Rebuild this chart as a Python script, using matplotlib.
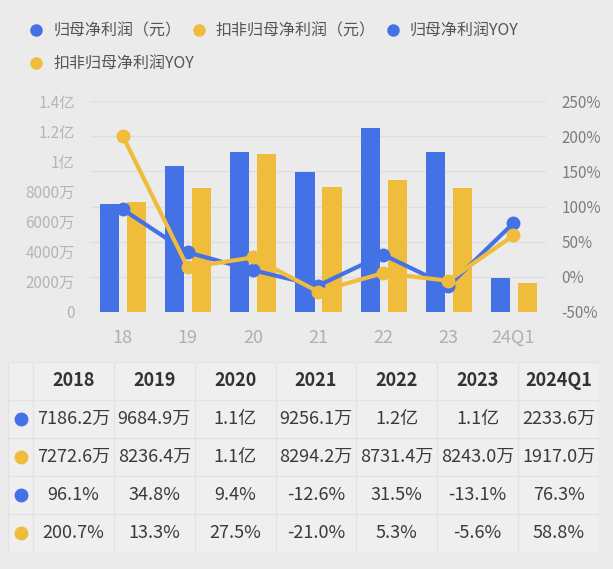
import matplotlib
matplotlib.use("Agg")
import matplotlib.pyplot as plt
from matplotlib.lines import Line2D
import numpy as np

plt.rcParams['font.family'] = ['Noto Sans CJK SC', 'DejaVu Sans']

# 数据
labels = ['18', '19', '20', '21', '22', '23', '24Q1']
years = ['2018', '2019', '2020', '2021', '2022', '2023', '2024Q1']
net_profit = [7186.2e4, 9684.9e4, 1.06e8, 9256.1e4, 1.22e8, 1.06e8, 2233.6e4]
net_profit_adj = [7272.6e4, 8236.4e4, 1.05e8, 8294.2e4, 8731.4e4, 8243.0e4, 1917.0e4]
yoy = [96.1, 34.8, 9.4, -12.6, 31.5, -13.1, 76.3]
yoy_adj = [200.7, 13.3, 27.5, -21.0, 5.3, -5.6, 58.8]

row_profit = ['7186.2万', '9684.9万', '1.1亿', '9256.1万', '1.2亿', '1.1亿', '2233.6万']
row_profit_adj = ['7272.6万', '8236.4万', '1.1亿', '8294.2万', '8731.4万', '8243.0万', '1917.0万']
row_yoy = ['96.1%', '34.8%', '9.4%', '-12.6%', '31.5%', '-13.1%', '76.3%']
row_yoy_adj = ['200.7%', '13.3%', '27.5%', '-21.0%', '5.3%', '-5.6%', '58.8%']

left_ticks = [0, 2e7, 4e7, 6e7, 8e7, 1e8, 1.2e8, 1.4e8]
left_ticklabels = ['0', '2000万', '4000万', '6000万', '8000万', '1亿', '1.2亿', '1.4亿']
right_ticks = [-50, 0, 50, 100, 150, 200, 250]

blue = '#4571e6'
yellow = '#efbc3b'
bg = '#ebebeb'

fig = plt.figure(figsize=(6.13, 5.69), dpi=100, facecolor=bg)

W, H = 613, 569
ax = fig.add_axes([90 / W, 1 - 312 / H, (546 - 90) / W, (312 - 101) / H])
ax.set_facecolor(bg)
x = np.arange(len(labels))
axb = ax.twinx()
axl = ax.twinx()

# 网格 (右轴刻度)
ax.set_ylim(-50, 250)
ax.set_yticks(right_ticks)
ax.set_yticklabels([f'{t}%' for t in right_ticks])
ax.yaxis.tick_right()
ax.grid(axis='y', color='#dedede', linewidth=1)
ax.tick_params(axis='y', length=0, pad=11, labelsize=11, labelcolor='#7d7d7d')
ax.set_xlim(-0.5, len(labels) - 0.5)
ax.set_xticks(x)
ax.set_xticklabels(labels)
ax.tick_params(axis='x', length=0, pad=12, labelsize=13, labelcolor='#b0b0b0')
for s in ax.spines.values():
    s.set_visible(False)

# 柱子
axb.bar(x - 0.2, net_profit, width=0.295, color=blue, zorder=2)
axb.bar(x + 0.215, net_profit_adj, width=0.295, color=yellow, zorder=2)
axb.set_ylim(0, 1.4e8)
axb.yaxis.tick_left()
axb.set_yticks(left_ticks)
axb.set_yticklabels(left_ticklabels)
axb.tick_params(axis='y', length=0, pad=11, labelsize=11, labelcolor='#b5b5b5')
for s in axb.spines.values():
    s.set_visible(False)

# 折线
axl.set_ylim(-50, 250)
axl.plot(x, yoy, color=blue, linewidth=3, marker='o', markersize=9, zorder=3)
axl.plot(x, yoy_adj, color=yellow, linewidth=3, marker='o', markersize=9, zorder=4)
axl.set_yticks([])
for s in axl.spines.values():
    s.set_visible(False)

# 图例: 两行, 第一行三项, 第二行一项
names = ['归母净利润（元）', '扣非归母净利润（元）', '归母净利润YOY', '扣非归母净利润YOY']
colors = [blue, yellow, blue, yellow]
handles = [Line2D([], [], linestyle='none', marker='o', markersize=8, color=c) for c in colors]
leg_kw = dict(loc='center left', frameon=False, fontsize=11.5, handlelength=0.8,
              handletextpad=0.65, columnspacing=0.7, borderpad=0, borderaxespad=0)
leg1 = fig.legend(handles[:3], names[:3], ncol=3, bbox_to_anchor=(30 / W, 1 - 31 / H), **leg_kw)
leg2 = fig.legend(handles[3:], names[3:], ncol=1, bbox_to_anchor=(30 / W, 1 - 64 / H), **leg_kw)
for lg in (leg1, leg2):
    for t in lg.get_texts():
        t.set_color('#555555')

# 表格
tab = fig.add_axes([8 / W, 1 - 552 / H, (599 - 8) / W, (552 - 362) / H])
first_w = 25
col_w = 81
tab.set_xlim(0, first_w + col_w * 7)
tab.set_ylim(5, 0)
tab.axis('off')
tab.add_patch(plt.Rectangle((0, 0), first_w + col_w * 7, 5, color='#efefef', zorder=0))
for r in range(6):
    tab.plot([0, first_w + col_w * 7], [r, r], color='#e3e3e3', linewidth=1, zorder=1)
xs = [0] + [first_w + col_w * i for i in range(8)]
for xv in xs:
    tab.plot([xv, xv], [0, 5], color='#e3e3e3', linewidth=1, zorder=1)

for i, y in enumerate(years):
    tab.text(first_w + col_w * (i + 0.5), 0.5, y, ha='center', va='center',
             fontsize=13, color='#333333', fontweight='bold')
rows = [row_profit, row_profit_adj, row_yoy, row_yoy_adj]
row_colors = [blue, yellow, blue, yellow]
for r, (vals, c) in enumerate(zip(rows, row_colors)):
    tab.plot(first_w / 2 + 0.5, r + 1.5, marker='o', markersize=9, color=c, linestyle='none')
    for i, v in enumerate(vals):
        tab.text(first_w + col_w * (i + 0.5), r + 1.5, v, ha='center', va='center',
                 fontsize=13, color='#3a3a3a')

fig.savefig('out.png', dpi=100, facecolor=bg)
